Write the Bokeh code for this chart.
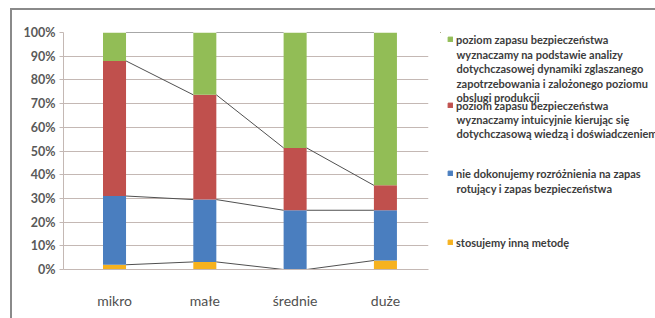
import numpy as np
from bokeh.plotting import figure
from bokeh.layouts import row
from bokeh.models import (Range1d, FixedTicker, NumeralTickFormatter, Legend,
                          LegendItem, Label, ColumnDataSource)
from bokeh.embed import file_html
from bokeh.resources import INLINE

# ---- data (percent of firms) ----
categories = ["mikro", "małe", "średnie", "duże"]
inna = [2.0, 3.2, 0.0, 3.8]            # stosujemy inną metodę
nie_rozr = [29.0, 26.3, 25.0, 21.2]    # nie dokonujemy rozróżnienia
intuicyjnie = [57.0, 44.2, 26.3, 10.5] # wyznaczamy intuicyjnie
analiza = [12.0, 26.3, 48.7, 64.5]     # na podstawie analizy
y_ticks = [0, 0.1, 0.2, 0.3, 0.4, 0.5, 0.6, 0.7, 0.8, 0.9, 1.0]

legend_lines = {
    "analiza": ["poziom zapasu bezpieczeństwa",
                "wyznaczamy na podstawie analizy",
                "dotychczasowej dynamiki zglaszanego",
                "zapotrzebowania i zalożonego poziomu",
                "obslugi produkcji"],
    "intuicyjnie": ["poziom zapasu bezpieczeństwa",
                    "wyznaczamy intuicyjnie kierując się",
                    "dotychczasową wiedzą i doświadczeniem"],
    "nie_rozr": ["nie dokonujemy rozróżnienia na zapas",
                 "rotujący i zapas bezpieczeństwa"],
    "inna": ["stosujemy inną metodę"],
}

colors = {"inna": "#F6B21F", "nie_rozr": "#4A7EBF",
          "intuicyjnie": "#C0504D", "analiza": "#92BD56"}
order = ["inna", "nie_rozr", "intuicyjnie", "analiza"]
series = {"inna": inna, "nie_rozr": nie_rozr,
          "intuicyjnie": intuicyjnie, "analiza": analiza}

xs = list(range(1, len(categories) + 1))
src = ColumnDataSource(dict(x=xs, **{k: [v / 100 for v in series[k]] for k in order}))

# ---- main chart ----
H = 308
W1 = 428
MT, FH = 22, 237
p = figure(width=W1, height=H, output_backend="svg", toolbar_location=None,
           x_range=Range1d(0.435, 4.477), y_range=Range1d(0, 1.0),
           min_border_left=51, min_border_right=W1 - 51 - 365,
           min_border_top=MT, min_border_bottom=H - MT - FH)
p.outline_line_color = None
p.background_fill_color = "white"
p.border_fill_color = "white"

bw = 0.255
rs = p.vbar_stack(order, x="x", width=bw, source=src,
                  color=[colors[k] for k in order], line_width=0)

# series lines
cum = np.cumsum(np.array([series[k] for k in order]), axis=0) / 100.0
x0 = [xs[i] + bw / 2 for i in range(len(xs) - 1)]
x1 = [xs[i + 1] - bw / 2 for i in range(len(xs) - 1)]
for lvl in range(cum.shape[0]):
    p.segment(x0=x0, y0=list(cum[lvl][:-1]), x1=x1, y1=list(cum[lvl][1:]),
              line_color="#505050", line_width=1)

grid_c = "#c4b8b4"
p.xgrid.visible = False
p.ygrid.grid_line_color = grid_c
p.ygrid.ticker = FixedTicker(ticks=y_ticks)

p.yaxis.ticker = FixedTicker(ticks=y_ticks)
p.yaxis.formatter = NumeralTickFormatter(format="0%")
p.yaxis.axis_line_color = grid_c
p.yaxis.major_tick_line_color = grid_c
p.yaxis.major_tick_out = 4
p.yaxis.major_tick_in = 0
p.yaxis.minor_tick_line_color = None
p.yaxis.major_label_standoff = 4
p.yaxis.major_label_text_font = "Lato"
p.yaxis.major_label_text_font_style = "bold"
p.yaxis.major_label_text_font_size = "12.5px"
p.yaxis.major_label_text_color = "#595959"

p.xaxis.ticker = FixedTicker(ticks=xs)
p.xaxis.major_label_overrides = {x: c for x, c in zip(xs, categories)}
p.xaxis.axis_line_color = grid_c
p.xaxis.major_tick_line_color = None
p.xaxis.minor_tick_line_color = None
p.xaxis.major_label_standoff = 16
p.xaxis.major_label_text_font = "Lato"
p.xaxis.major_label_text_font_size = "14px"
p.xaxis.major_label_text_color = "#505050"

# ---- legend panel: frame is aligned with the chart frame (page y 32..269) ----
W2 = 215
q = figure(width=W2, height=H, output_backend="svg", toolbar_location=None,
           x_range=Range1d(440, 440 + W2), y_range=Range1d(32 + FH, 32),
           min_border_left=0, min_border_right=0,
           min_border_top=MT, min_border_bottom=H - MT - FH)
q.axis.visible = False
q.grid.visible = False
q.outline_line_color = None
q.background_fill_color = "white"
q.border_fill_color = "white"

# off-screen swatch renderers so the legend can draw its colour squares
swatch_src = ColumnDataSource(dict(x=[0], top=[0]))
# text line centres in page pixels (y from top)
line_centers = {"analiza": [39, 53.5, 68, 82.5, 97],
                "intuicyjnie": [105, 119, 133],
                "nie_rozr": [173, 187.5],
                "inna": [242]}
lg_font = "Lato"
lg_size = "11px"
lg_color = "#3c3c3c"
frame_bottom_page = 32 + FH
for k in order:
    sw = q.vbar(x="x", top="top", width=1, source=swatch_src,
                fill_color=colors[k], line_color=colors[k])
    lines = legend_lines[k]
    centers = line_centers[k]
    lg = Legend(items=[LegendItem(label=lines[0], renderers=[sw])],
                location=(7, frame_bottom_page - centers[0] - 6.5),
                padding=0, margin=0,
                glyph_width=6, glyph_height=6, label_standoff=3,
                label_height=13, border_line_color=None,
                background_fill_alpha=0, label_text_font=lg_font,
                label_text_font_size=lg_size, label_text_font_style="bold",
                label_text_color=lg_color, label_text_baseline="middle")
    q.add_layout(lg, "center")
    for ln, c in zip(lines[1:], centers[1:]):
        q.add_layout(Label(x=456, y=c, text=ln, text_font=lg_font,
                           text_font_size=lg_size, text_font_style="bold",
                           text_color=lg_color, text_baseline="middle"))

layout = row(p, q)
layout.styles = {"margin-left": "10px", "margin-top": "8px",
                 "border-top": "2px solid #8a8a8a",
                 "border-left": "2px solid #8a8a8a"}

open("out.html", "w").write(file_html(layout, INLINE))
